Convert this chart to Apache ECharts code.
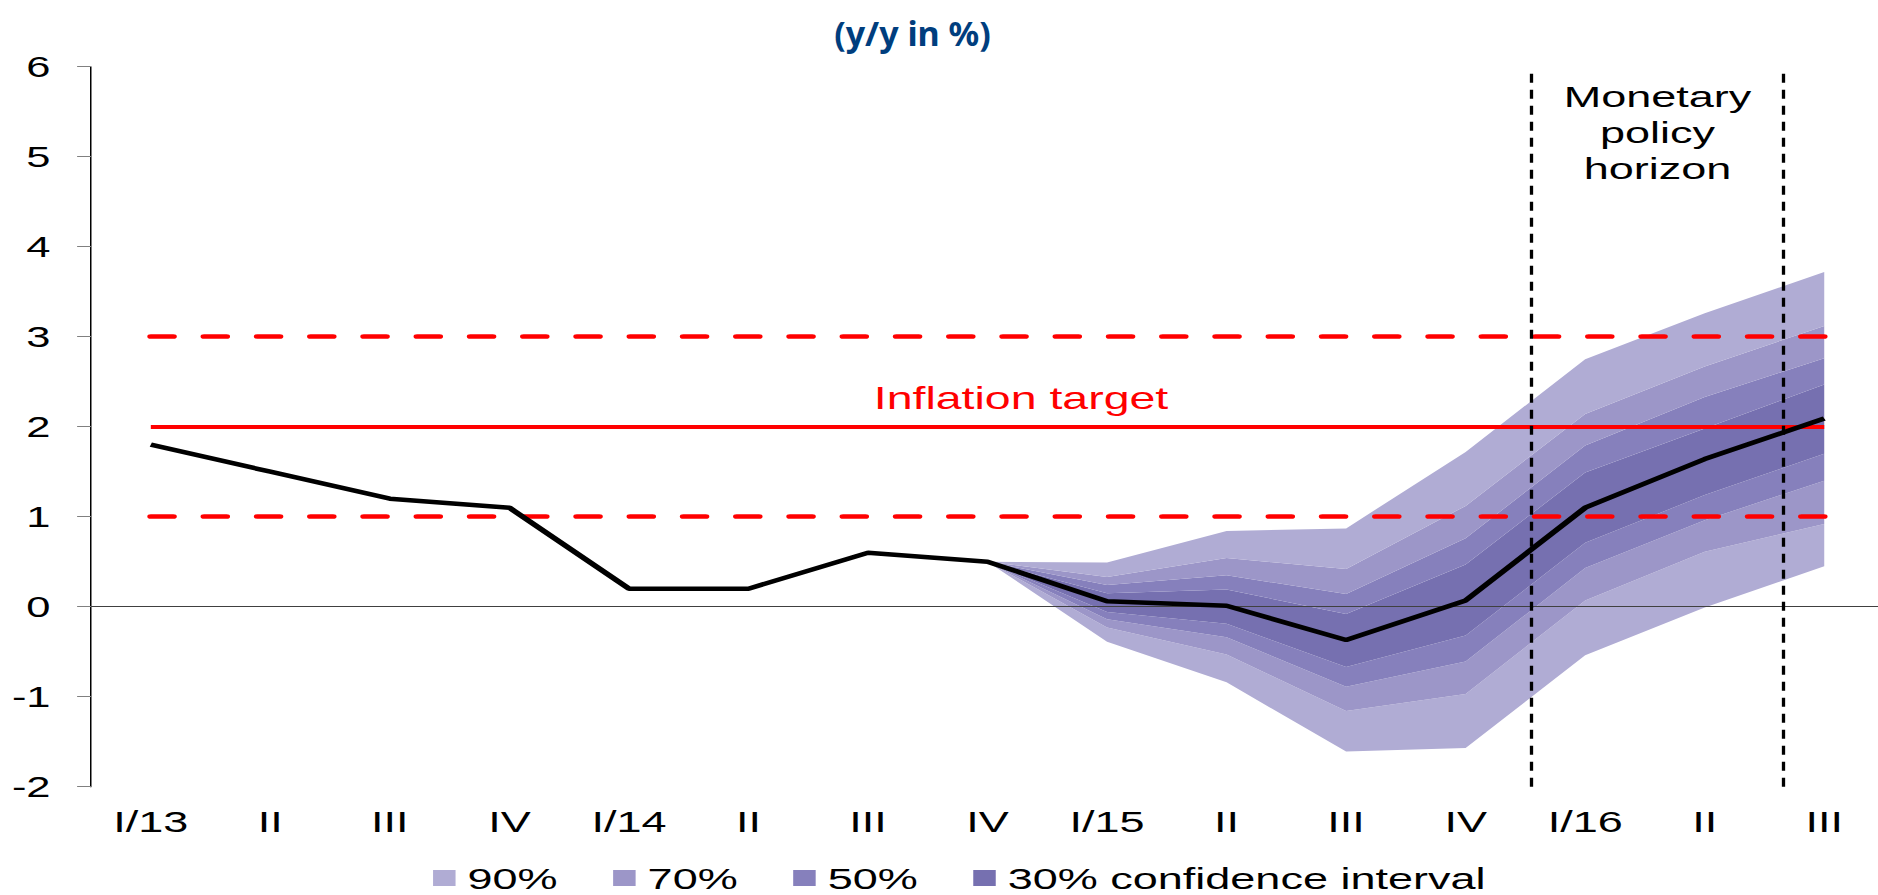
<!DOCTYPE html>
<html>
<head>
<meta charset="utf-8">
<script src="https://cdn.jsdelivr.net/npm/echarts@6/dist/echarts.min.js"></script>
<style>
html,body{margin:0;padding:0;overflow:hidden;background:#fff;width:1878px;height:895px;}
#wrap{position:absolute;left:0;top:0;width:1256px;height:895px;transform:scaleX(1.5);transform-origin:0 0;}
</style>
</head>
<body>
<div id="wrap"></div>
<script>
// ---- data ----
const categories = ['I/13','II','III','IV','I/14','II','III','IV','I/15','II','III','IV','I/16','II','III'];
const inflation  = [1.8, 1.5, 1.2, 1.1, 0.2, 0.2, 0.6, 0.5, 0.06, 0.01, -0.37, 0.07, 1.10, 1.64, 2.09];
const lower90 = [null,null,null,null,null,null,null, 0.5, -0.39, -0.84, -1.61, -1.57, -0.54, -0.01, 0.45];
const lower70 = [null,null,null,null,null,null,null, 0.5, -0.23, -0.53, -1.16, -0.97,  0.07,  0.61, 0.92];
const lower50 = [null,null,null,null,null,null,null, 0.5, -0.14, -0.34, -0.89, -0.61,  0.43,  0.96, 1.40];
const lower30 = [null,null,null,null,null,null,null, 0.5, -0.06, -0.19, -0.67, -0.32,  0.71,  1.24, 1.70];
const upper30 = [null,null,null,null,null,null,null, 0.5,  0.15,  0.19, -0.08,  0.47,  1.49,  1.98, 2.47];
const upper50 = [null,null,null,null,null,null,null, 0.5,  0.24,  0.35,  0.14,  0.76,  1.79,  2.33, 2.76];
const upper70 = [null,null,null,null,null,null,null, 0.5,  0.33,  0.54,  0.42,  1.12,  2.14,  2.67, 3.12];
const upper90 = [null,null,null,null,null,null,null, 0.5,  0.49,  0.84,  0.87,  1.72,  2.75,  3.26, 3.72];
const target = 2;
const toleranceBand = [1, 3];
const policyHorizon = [11.55, 13.66];
const yTicks = [-2, 6, 1];
const legendNames = ['90%', '70%', '50%', '30% confidence interval'];
const titleText = '(y/y in %)';

// ---- styling ----
const bandColors = {'90%':'#B0ACD4','70%':'#9C96C8','50%':'#8680BC','30% confidence interval':'#7670B0'};
const FONT = '"Liberation Sans", Arial, sans-serif';

const diff = (hi, lo) => hi.map((v, i) => (v == null || lo[i] == null) ? null : +(v - lo[i]).toFixed(4));
const bands = [
  ['90%', lower70, lower90],
  ['70%', lower50, lower70],
  ['50%', lower30, lower50],
  ['30% confidence interval', upper30, lower30],
  ['50%', upper50, upper30],
  ['70%', upper70, upper50],
  ['90%', upper90, upper70]
];

const series = [];
series.push({
  name: 'base', type: 'line', stack: 'fan', stackStrategy: 'all', data: lower90,
  symbol: 'none', lineStyle: {width: 0, opacity: 0}, silent: true, z: 1
});
bands.forEach(b => {
  series.push({
    name: b[0], type: 'line', stack: 'fan', stackStrategy: 'all', data: diff(b[1], b[2]),
    symbol: 'none', color: bandColors[b[0]],
    lineStyle: {width: 0, opacity: 0},
    areaStyle: {color: bandColors[b[0]], opacity: 1},
    silent: true, z: 1
  });
});
// zero line
series.push({
  name: 'zero', type: 'line', data: [], z: 3, silent: true,
  markLine: {
    silent: true, symbol: 'none', label: {show: false},
    lineStyle: {color: '#404040', width: 1, type: 'solid'},
    data: [{yAxis: 0}]
  }
});
// inflation target and band
const last = categories.length - 1;
series.push({
  name: 'target', type: 'line', data: [], z: 4, silent: true,
  markLine: {
    silent: true, symbol: 'none', label: {show: false},
    data: [
      [{coord: [0, target], lineStyle: {color: '#FF0000', width: 4, type: 'solid'}}, {coord: [last, target]}],
      [{coord: [0, toleranceBand[0]], lineStyle: {color: '#FF0000', width: 4.7, type: [15, 20.5], cap: 'round'}}, {coord: [last, toleranceBand[0]]}],
      [{coord: [0, toleranceBand[1]], lineStyle: {color: '#FF0000', width: 4.7, type: [15, 20.5], cap: 'round'}}, {coord: [last, toleranceBand[1]]}]
    ]
  }
});
// monetary policy horizon
series.push({
  name: 'horizon', type: 'line', xAxisIndex: 1, data: [], z: 5, silent: true,
  markLine: {
    silent: true, symbol: 'none', label: {show: false},
    lineStyle: {color: '#000', width: 2.2, type: [9, 7]},
    data: [{xAxis: policyHorizon[0]}, {xAxis: policyHorizon[1]}]
  },
  markArea: {
    silent: true,
    itemStyle: {color: 'rgba(0,0,0,0)'},
    label: {
      show: true, position: 'insideTop', distance: 12,
      formatter: 'Monetary\npolicy\nhorizon', align: 'center',
      fontFamily: FONT, fontSize: 30, lineHeight: 36, color: '#000'
    },
    data: [[{xAxis: policyHorizon[0]}, {xAxis: policyHorizon[1]}]]
  },
  markPoint: {
    silent: true, symbol: 'circle', symbolSize: 1, itemStyle: {color: 'rgba(0,0,0,0)'},
    label: {show: true, position: 'top', distance: 13, formatter: 'Inflation target',
      fontFamily: FONT, fontSize: 31, color: '#FF0000'},
    data: [{coord: [7.28, target]}]
  }
});
// CPI line
series.push({
  name: 'inflation', type: 'line', data: inflation, z: 6, symbol: 'none',
  lineStyle: {color: '#000', width: 4.5}, itemStyle: {color: '#000'}, silent: true
});

const chart = echarts.init(document.getElementById('wrap'), null, {renderer: 'svg', width: 1256, height: 895});
chart.setOption({
  animation: false,
  backgroundColor: '#fff',
  grid: {left: 60.7, right: 0, top: 66.7, bottom: 108.3, containLabel: false},
  graphic: [{
    type: 'text', x: 608.3, y: 33, scaleX: 1 / 1.5,
    style: {text: titleText, fill: '#003E7E', fontFamily: '"Noto Sans", sans-serif', fontWeight: 'bold', fontSize: 34,
      align: 'center', verticalAlign: 'middle', textAlign: 'center', textVerticalAlign: 'middle'}
  }],
  legend: {
    data: legendNames.map(n => ({name: n, itemStyle: {color: bandColors[n]}})),
    left: 288.7, top: 863, padding: 0, icon: 'rect', itemWidth: 15, itemHeight: 16, itemGap: 37,
    selectedMode: false,
    textStyle: {fontFamily: FONT, fontSize: 30, color: '#000', padding: [0, 0, 0, 3]}
  },
  xAxis: [{
    type: 'category', data: categories, boundaryGap: true, position: 'bottom',
    axisLine: {show: false, onZero: false}, axisTick: {show: false}, splitLine: {show: false},
    axisLabel: {interval: 0, fontFamily: FONT, fontSize: 30, color: '#000', margin: 20}
  }, {
    type: 'value', min: -0.5, max: 14.5, show: false
  }],
  yAxis: {
    type: 'value', min: yTicks[0], max: yTicks[1], interval: yTicks[2],
    axisLine: {show: true, onZero: false, lineStyle: {color: '#000', width: 1}},
    axisTick: {show: true, inside: false, length: 9.3, lineStyle: {color: '#808080', width: 1}},
    splitLine: {show: false},
    axisLabel: {fontFamily: FONT, fontSize: 29, color: '#000', margin: 27}
  },
  series: series
});
</script>
</body>
</html>
